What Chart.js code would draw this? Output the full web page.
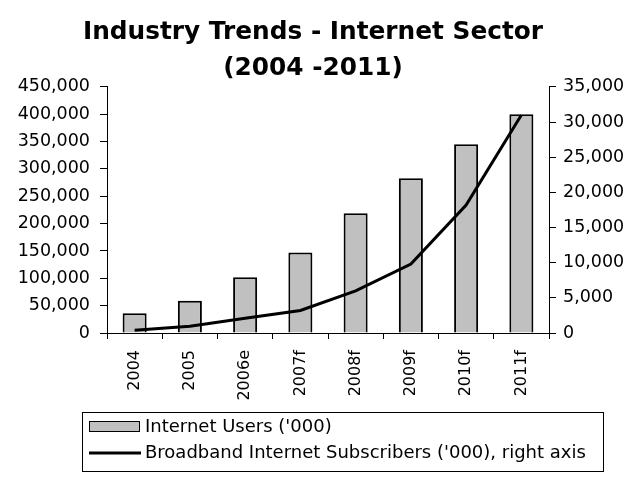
<!DOCTYPE html>
<html>
<head>
<meta charset="utf-8">
<script src="https://cdn.jsdelivr.net/npm/chart.js@4.4.0/dist/chart.umd.min.js"></script>
<style>
  html, body { margin: 0; padding: 0; background: #ffffff; }
  #wrap { width: 626px; height: 477px; position: relative; }
  canvas { display: block; }
</style>
</head>
<body>
<div id="wrap"><canvas id="c" width="626" height="477"></canvas></div>
<script>
// ---- data ----
const categories = ['2004', '2005', '2006e', '2007f', '2008f', '2009f', '2010f', '2011f'];
const internetUsers = [36000, 59000, 102000, 147000, 219000, 283000, 345000, 400000];
const broadbandSubscribers = [400, 950, 2100, 3200, 6000, 9800, 18200, 31000];
const seriesLabels = ["Internet Users ('000)", "Broadband Internet Subscribers ('000), right axis"];
const titleLines = ['Industry Trends - Internet Sector', '(2004 -2011)'];
const leftAxisRange = [0, 450000, 50000];
const rightAxisRange = [0, 35000, 5000];

const FONT = "'DejaVu Sans', 'Liberation Sans', Arial, sans-serif";
const fmt = v => Number(v).toLocaleString('en-US');

// legend drawn in a framed box under the axis labels
const framedLegend = {
  id: 'framedLegend',
  afterDraw(chart) {
    const ctx = chart.ctx;
    const ds = chart.data.datasets;
    ctx.save();
    ctx.strokeStyle = '#000';
    ctx.lineWidth = 1;
    ctx.strokeRect(82.5, 412.5, 521, 59);
    ctx.font = "18px " + FONT;
    ctx.textBaseline = 'middle';
    ctx.textAlign = 'left';
    // bar entry
    ctx.fillStyle = ds[0].backgroundColor;
    ctx.fillRect(89, 421, 50, 11);
    ctx.strokeRect(89.5, 421.5, 50, 10);
    ctx.fillStyle = '#000';
    ctx.fillText(ds[0].label, 145, 427);
    // line entry
    ctx.beginPath();
    ctx.lineWidth = ds[1].borderWidth;
    ctx.strokeStyle = ds[1].borderColor;
    ctx.moveTo(89, 453);
    ctx.lineTo(141, 453);
    ctx.stroke();
    ctx.fillStyle = '#000';
    ctx.fillText(ds[1].label, 145, 453);
    ctx.restore();
  }
};

new Chart(document.getElementById('c'), {
  type: 'bar',
  data: {
    labels: categories,
    datasets: [
      {
        type: 'bar',
        label: seriesLabels[0],
        data: internetUsers,
        yAxisID: 'y',
        backgroundColor: '#c0c0c0',
        borderColor: '#000000',
        borderWidth: 2,
        barPercentage: 0.435,
        categoryPercentage: 1.0,
        order: 2
      },
      {
        type: 'line',
        label: seriesLabels[1],
        data: broadbandSubscribers,
        yAxisID: 'y1',
        borderColor: '#000000',
        backgroundColor: '#000000',
        borderWidth: 3,
        pointRadius: 0,
        tension: 0,
        fill: false,
        order: 1
      }
    ]
  },
  options: {
    responsive: false,
    animation: false,
    devicePixelRatio: 1,
    layout: { padding: 0 },
    plugins: {
      legend: { display: false },
      tooltip: { enabled: false },
      title: {
        display: true,
        text: titleLines,
        color: '#000',
        font: { family: FONT, weight: 'bold', size: 24.8, lineHeight: 1.47 },
        padding: { top: 14, bottom: 0 }
      }
    },
    scales: {
      x: {
        offset: true,
        grid: { offset: true, drawOnChartArea: false, drawTicks: true, tickLength: 6, color: '#000', lineWidth: 1 },
        border: { display: true, color: '#000', width: 1 },
        ticks: {
          minRotation: 90, maxRotation: 90, autoSkip: false, padding: 11,
          color: '#000', font: { family: FONT, size: 16 }
        },
        afterFit(s) { s.height = 144; }
      },
      y: {
        position: 'left',
        min: leftAxisRange[0], max: leftAxisRange[1],
        grid: { drawOnChartArea: false, drawTicks: true, tickLength: 7, color: '#000' },
        border: { display: true, color: '#000', width: 1 },
        ticks: {
          stepSize: leftAxisRange[2], padding: 10, color: '#000',
          font: { family: FONT, size: 17.5 },
          callback: v => fmt(v)
        },
        afterFit(s) { s.width = 107; }
      },
      y1: {
        position: 'right',
        min: rightAxisRange[0], max: rightAxisRange[1],
        grid: { drawOnChartArea: false, drawTicks: true, tickLength: 7, color: '#000' },
        border: { display: true, color: '#000', width: 1 },
        ticks: {
          stepSize: rightAxisRange[2], padding: 7, color: '#000',
          font: { family: FONT, size: 17.5 },
          callback: v => fmt(v)
        },
        afterFit(s) { s.width = 77; }
      }
    }
  },
  plugins: [framedLegend]
});
</script>
</body>
</html>
